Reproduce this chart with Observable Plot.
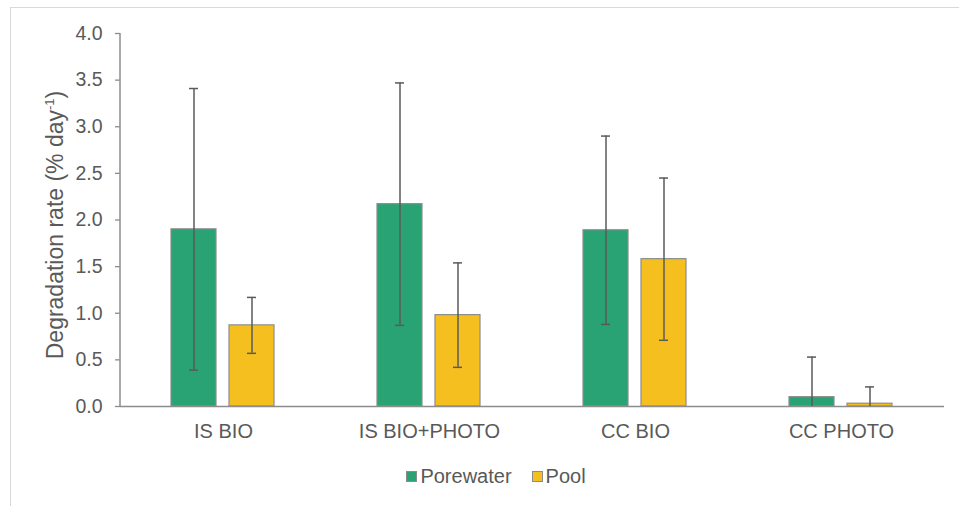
<!DOCTYPE html>
<html>
<head>
<meta charset="utf-8">
<script src="https://cdn.jsdelivr.net/npm/d3@7"></script>
<script src="https://cdn.jsdelivr.net/npm/@observablehq/plot@0.6"></script>
<style>
  html, body { margin: 0; padding: 0; background: #fff; }
  body { width: 959px; height: 506px; position: relative; overflow: hidden; font-family: "Liberation Sans", Arial, sans-serif; }
  #frame { position: absolute; left: 10px; top: 7px; width: 960px; height: 510px; border: 1px solid #d9d9d9; box-sizing: border-box; }
  #chart { position: absolute; left: 0; top: 0; }
  #ylabel { position: absolute; left: 55px; top: 225px; transform: translate(-50%, -50%) rotate(-90deg); white-space: nowrap; font-size: 23px; color: #595959; }
  #ylabel sup { font-size: 13px; vertical-align: 9px; line-height: 0; }
  #legend { position: absolute; top: 465px; left: 0; width: 992px; text-align: center; font-size: 20px; color: #595959; }
  #legend span.item { display: inline-block; margin: 0 10px; }
  #legend span.sw { display: inline-block; width: 9px; height: 9px; margin-right: 3px; border: 1px solid #8c8c8c; vertical-align: 1px; }
</style>
</head>
<body>
<div id="frame"></div>
<div id="chart"></div>
<div id="ylabel">Degradation rate (% day<sup>-1</sup>)</div>
<div id="legend"></div>
<script>
const categories = ["IS BIO", "IS BIO+PHOTO", "CC BIO", "CC PHOTO"];
const seriesNames = ["Porewater", "Pool"];
const porewaterMean = [1.90, 2.17, 1.89, 0.10];
const porewaterErr  = [1.51, 1.30, 1.01, 0.43];
const poolMean      = [0.87, 0.98, 1.58, 0.03];
const poolErr       = [0.30, 0.56, 0.87, 0.18];
const colors = ["#29A274", "#F5C01F"];
const yTicks = [0, 0.5, 1, 1.5, 2, 2.5, 3, 3.5, 4];

const data = [];
categories.forEach((c, i) => {
  data.push({cat: c, series: "Porewater", value: porewaterMean[i], err: porewaterErr[i]});
  data.push({cat: c, series: "Pool", value: poolMean[i], err: poolErr[i]});
});
data.forEach(d => {
  d.lo = Math.max(0, d.value - d.err);
  d.hi = d.value + d.err;
});

const axisGray = "#8c8c8c";
const textGray = "#595959";

const plot = Plot.plot({
  width: 959,
  height: 450,
  marginLeft: 119,
  marginRight: 14,
  marginTop: 33,
  marginBottom: 44,
  style: {fontFamily: "'Liberation Sans', Arial, sans-serif", color: textGray, background: "transparent"},
  fx: {domain: categories, padding: 0, axis: null, label: null},
  x: {domain: seriesNames, paddingInner: 0.22, paddingOuter: 0.86, axis: null},
  y: {domain: [0, 4], axis: null},
  color: {domain: seriesNames, range: colors},
  marks: [
    Plot.axisY({ticks: yTicks, tickFormat: d3.format(".1f"), tickSize: 5, tickPadding: 13, fontSize: 19.5, stroke: axisGray, strokeWidth: 1.3, label: null, fill: textGray}),
    Plot.axisFx({anchor: "bottom", tickSize: 0, tickPadding: 17, fontSize: 20, label: null, fill: textGray}),
    Plot.barY(data, {fx: "cat", x: "series", y: "value", fill: "series", stroke: axisGray, strokeWidth: 1.2}),
    Plot.ruleY([0], {stroke: axisGray, strokeWidth: 1.5}),
    Plot.ruleX(data, {fx: "cat", x: "series", y1: "lo", y2: "hi", stroke: "#5a5a5a", strokeWidth: 1.5}),
    Plot.tickY(data, {fx: "cat", x: "series", y: "hi", stroke: "#5a5a5a", strokeWidth: 1.5, insetLeft: 18, insetRight: 18}),
    Plot.tickY(data.filter(d => d.lo > 0), {fx: "cat", x: "series", y: "lo", stroke: "#5a5a5a", strokeWidth: 1.5, insetLeft: 18, insetRight: 18}),
    Plot.ruleX(data.filter(d => d.cat === categories[0] && d.series === seriesNames[0]), {fx: "cat", x: null, y1: 0, y2: 4, stroke: axisGray, strokeWidth: 1.5, render: (index, scales, values, dims) => {
      const g = d3.create("svg:g");
      g.append("line")
        .attr("x1", dims.marginLeft).attr("x2", dims.marginLeft)
        .attr("y1", scales.y(4)).attr("y2", scales.y(0))
        .attr("stroke", axisGray).attr("stroke-width", 1.5);
      return g.node();
    }})
  ]
});
document.getElementById("chart").appendChild(plot);

const legend = document.getElementById("legend");
seriesNames.forEach((s, i) => {
  const item = document.createElement("span");
  item.className = "item";
  const sw = document.createElement("span");
  sw.className = "sw";
  sw.style.background = colors[i];
  item.appendChild(sw);
  item.appendChild(document.createTextNode(s));
  legend.appendChild(item);
});
</script>
</body>
</html>
